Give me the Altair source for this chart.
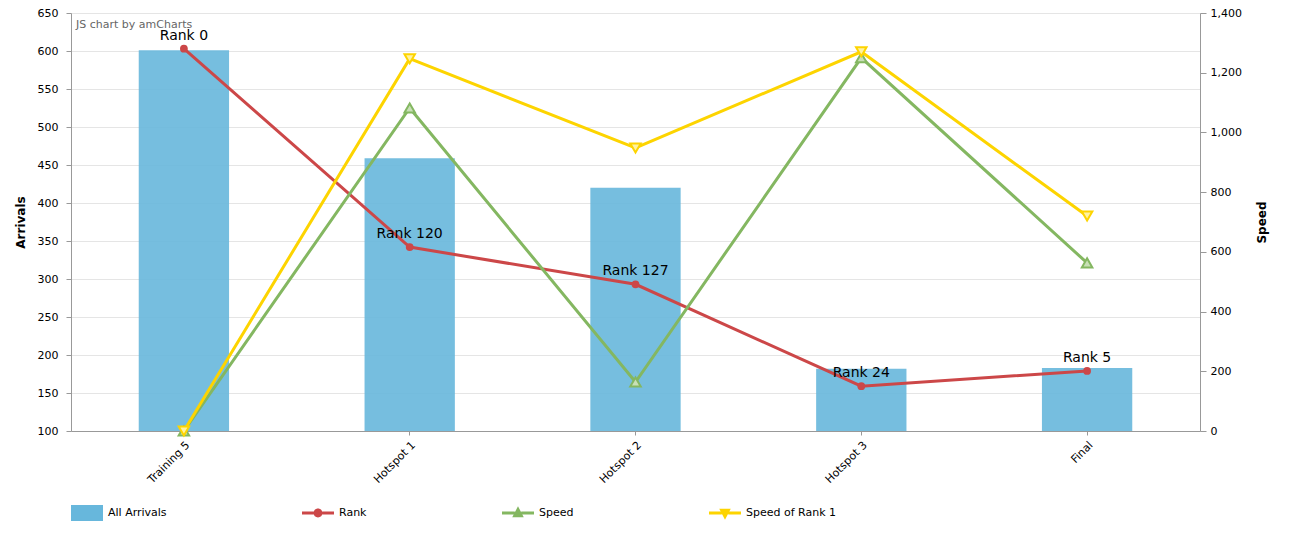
import altair as alt
import pandas as pd

categories = ["Training 5", "Hotspot 1", "Hotspot 2", "Hotspot 3", "Final"]
arrivals = [601, 459, 420, 182, 183]
rank_position = [603, 342, 293, 159, 179]
rank_labels = ["Rank 0", "Rank 120", "Rank 127", "Rank 24", "Rank 5"]
speed = [0, 1082, 164, 1250, 563]
speed_rank1 = [0, 1247, 948, 1270, 720]

series_names = ["All Arrivals", "Rank", "Speed", "Speed of Rank 1"]
series_colors = ["#67b7dc", "#cc4748", "#84b761", "#fdd400"]
legend_shapes = [
    "M-1,-0.5H1V0.5H-1Z",
    "M-1,-0.09H-0.27V0.09H-1Z M0.27,-0.09H1V0.09H0.27Z "
    "M-0.28,0A0.28,0.28 0 1,1 0.28,0A0.28,0.28 0 1,1 -0.28,0Z",
    "M-1,-0.09H-0.2V0.09H-1Z M0.2,-0.09H1V0.09H0.2Z "
    "M0,-0.42L0.36,0.26L-0.36,0.26Z",
    "M-1,-0.09H-0.2V0.09H-1Z M0.2,-0.09H1V0.09H0.2Z "
    "M0,0.42L-0.36,-0.26L0.36,-0.26Z",
]

FONT = "DejaVu Sans"

df = pd.DataFrame({
    "category": categories,
    "arrivals": arrivals,
    "rank_pos": rank_position,
    "rank_label": rank_labels,
    "speed": speed,
    "speed_rank1": speed_rank1,
})
legend_df = pd.DataFrame({"series": series_names})

x_enc = alt.X(
    "category:N",
    sort=categories,
    scale=alt.Scale(paddingInner=0, paddingOuter=0),
    axis=alt.Axis(
        title=None, labelAngle=-45, labelFontSize=11, labelColor="#000",
        labelFont=FONT, tickSize=4, labelPadding=4, domainColor="#999",
        tickColor="#999", grid=False,
    ),
)

left_axis = alt.Axis(
    title="Arrivals", values=list(range(100, 651, 50)), grid=True,
    gridColor="#e5e5e5", domainColor="#999", tickColor="#999", tickSize=5,
    labelPadding=8, labelFontSize=11, labelColor="#000", labelFont=FONT,
    titleFont=FONT, titleFontSize=12, titleFontWeight="bold", titlePadding=10,
)
left_scale = alt.Scale(domain=[100, 650], zero=False, nice=False)

base = alt.Chart(df)

bars = base.mark_bar(width={"band": 0.4}, color="#67b7dc", opacity=0.9).encode(
    x=x_enc,
    y=alt.Y("arrivals:Q", scale=left_scale, axis=left_axis),
    y2=alt.datum(100),
)

rank_y = alt.Y("rank_pos:Q", scale=left_scale, axis=left_axis)
rank_line = base.mark_line(color="#cc4748", strokeWidth=3).encode(x=x_enc, y=rank_y)
rank_points = base.mark_point(filled=True, color="#cc4748", size=60, opacity=1).encode(
    x=x_enc, y=rank_y
)
rank_text = base.mark_text(dy=-13, fontSize=14, font=FONT, color="#000").encode(
    x=x_enc, y=rank_y, text="rank_label:N"
)

watermark = alt.Chart(pd.DataFrame({"t": ["JS chart by amCharts"]})).mark_text(
    align="left", baseline="middle", fontSize=11, font=FONT, color="#666"
).encode(x=alt.value(5), y=alt.value(12), text="t:N")

legend_cfg = dict(
    title=None, orient="none", legendX=0, legendY=484,
    direction="horizontal", columns=4, gridAlign="none",
    columnPadding=135, symbolSize=1024, symbolOpacity=1,
    symbolStrokeWidth=0, labelFontSize=11, labelFont=FONT,
    labelColor="#000", labelOffset=5,
)

legend_layer = alt.Chart(legend_df).mark_point(filled=True, opacity=0).encode(
    x=alt.value(0), y=alt.value(0),
    color=alt.Color(
        "series:N",
        scale=alt.Scale(domain=series_names, range=series_colors),
        legend=alt.Legend(**legend_cfg),
    ),
    shape=alt.Shape(
        "series:N",
        scale=alt.Scale(domain=series_names, range=legend_shapes),
        legend=alt.Legend(**legend_cfg),
    ),
)

left = alt.layer(bars, rank_line, rank_points, rank_text, watermark, legend_layer)

right_axis = alt.Axis(
    orient="right", title="Speed", values=list(range(0, 1401, 200)),
    labelExpr="format(datum.value, ',')",
    grid=False, domainColor="#999", tickColor="#999", tickSize=6,
    labelPadding=4, labelFontSize=11, labelColor="#000", labelFont=FONT,
    titleFont=FONT, titleFontSize=12, titleFontWeight="bold", titlePadding=27,
    titleAngle=270,
)
right_scale = alt.Scale(domain=[0, 1400], nice=False)

speed_y = alt.Y("speed:Q", scale=right_scale, axis=right_axis)
r1_y = alt.Y("speed_rank1:Q", scale=right_scale, axis=right_axis)

speed_line = base.mark_line(color="#84b761", strokeWidth=3).encode(x=x_enc, y=speed_y)
speed_pts = base.mark_point(
    shape="triangle-up", color="#84b761", fill="#c8e0b6", filled=True,
    stroke="#84b761", strokeWidth=2, size=110, opacity=1,
).encode(x=x_enc, y=speed_y)

r1_line = base.mark_line(color="#fdd400", strokeWidth=3).encode(x=x_enc, y=r1_y)
r1_pts = base.mark_point(
    shape="triangle-down", color="#fdd400", fill="#fff2a0", filled=True,
    stroke="#fdd400", strokeWidth=2, size=110, opacity=1,
).encode(x=x_enc, y=r1_y)

right = alt.layer(speed_line, r1_line, speed_pts, r1_pts)

chart = alt.layer(left, right).resolve_scale(y="independent").properties(
    width=1129, height=418,
    autosize=alt.AutoSizeParams(type="none"),
    padding={"left": 63, "top": 5, "right": 82, "bottom": 100},
    background="#ffffff",
).configure_view(stroke=None)

chart.save("out.html", embed_options={"renderer": "svg", "actions": False})
